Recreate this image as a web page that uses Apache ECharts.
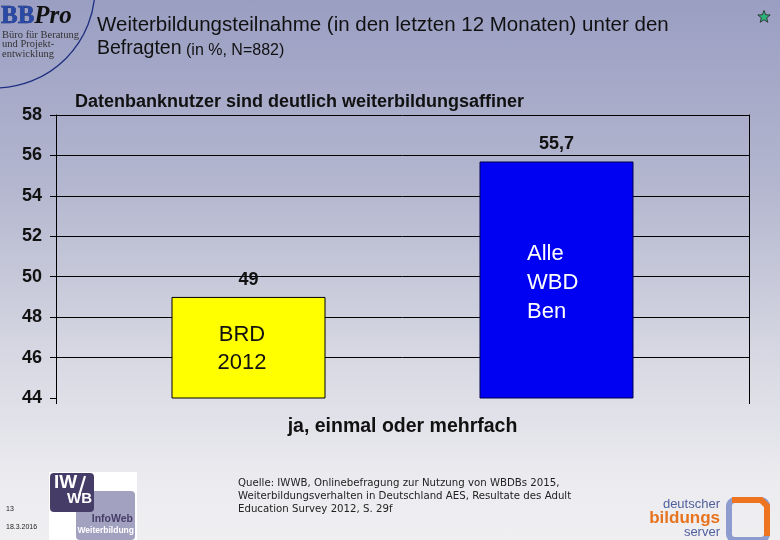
<!DOCTYPE html>
<html>
<head>
<meta charset="utf-8">
<script src="https://cdn.jsdelivr.net/npm/echarts@6/dist/echarts.min.js"></script>
<style>
  html, body { margin: 0; padding: 0; }
  #chart { width: 780px; height: 540px;
    background: linear-gradient(to bottom, #9a9ec2 0%, #b4b7cf 35%, #d6d7e2 65%, #ececf0 90%, #efeff2 100%); }
</style>
</head>
<body>
<div id="chart"></div>
<script>
// ---- data ----
const categories = ['ja, einmal oder mehrfach'];
const seriesNames = ['BRD 2012', 'Alle WBD Ben'];
const valuesBRD = [49];
const valuesWBD = [55.7];
const yMin = 44, yMax = 58, yStep = 2;

const titleLine1 = 'Weiterbildungsteilnahme (in den letzten 12 Monaten) unter den';
const titleLine2a = 'Befragten';
const titleLine2b = ' (in %, N=882)';
const subTitle = 'Datenbanknutzer sind deutlich weiterbildungsaffiner';
const sourceText = 'Quelle: IWWB, Onlinebefragung zur Nutzung von WBDBs 2015,\nWeiterbildungsverhalten in Deutschland AES, Resultate des Adult\nEducation Survey 2012, S. 29f';

const chart = echarts.init(document.getElementById('chart'), null, { renderer: 'canvas' });
const SANS = 'Liberation Sans, Arial, sans-serif';
const SERIF = 'Liberation Serif, DejaVu Serif, serif';

function starPoints(cx, cy, R, r) {
  const pts = [];
  for (let i = 0; i < 10; i++) {
    const a = -Math.PI / 2 + i * Math.PI / 5;
    const rad = i % 2 === 0 ? R : r;
    pts.push([cx + rad * Math.cos(a), cy + rad * Math.sin(a)]);
  }
  return pts;
}

const valueLabel = {
  show: true, position: 'top', distance: 8,
  color: '#111', fontFamily: SANS, fontWeight: 'bold', fontSize: 18,
  formatter: p => String(p.value).replace('.', ',')
};

const option = {
  animation: false,
  backgroundColor: 'transparent',
  grid: { left: 56, right: 31, top: 115, bottom: 142, containLabel: false },
  xAxis: {
    type: 'category',
    data: categories,
    boundaryGap: true,
    axisLine: { show: false },
    axisTick: { show: true, length: 6, lineStyle: { color: '#000', width: 1 } },
    axisLabel: { margin: 19, color: '#111', fontFamily: SANS, fontWeight: 'bold', fontSize: 19.5 },
    splitLine: { show: false }
  },
  yAxis: [{
    type: 'value', min: yMin, max: yMax, interval: yStep,
    axisLine: { show: true, lineStyle: { color: '#000', width: 1 } },
    axisTick: { show: true, length: 6, lineStyle: { color: '#000', width: 1 } },
    axisLabel: { margin: 14, color: '#111', fontFamily: SANS, fontWeight: 'bold', fontSize: 18 },
    splitLine: { show: true, showMinLine: false, lineStyle: { color: '#000', width: 1 } }
  }, {
    type: 'value', min: yMin, max: yMax, interval: yStep, position: 'right',
    axisLine: { show: true, lineStyle: { color: '#000', width: 1 } },
    axisTick: { show: false }, axisLabel: { show: false }, splitLine: { show: false }
  }],
  series: [{
    name: seriesNames[0], type: 'bar', data: valuesBRD,
    barWidth: 154, barGap: '100%',
    itemStyle: { color: '#ffff00', borderColor: '#000', borderWidth: 1 },
    label: valueLabel
  }, {
    name: seriesNames[1], type: 'bar', data: valuesWBD,
    barWidth: 154, barGap: '100%',
    itemStyle: { color: '#0000f2', borderColor: '#000050', borderWidth: 1 },
    label: valueLabel
  }],
  graphic: [
    // decorative arc of logo
    { type: 'arc', z: 1, shape: { cx: -5, cy: -12, r: 100, startAngle: 0, endAngle: Math.PI / 2 },
      style: { stroke: '#1e2f80', lineWidth: 1.3, fill: null } },
    // BBPro logo
    { type: 'text', x: 1, y: 4, z: 5, style: { text: '{b|BB}{p|Pro}', rich: {
        b: { fontFamily: SERIF, fontWeight: 'bold', fontSize: 25, fill: '#2a4aa8', stroke: '#0a1a60', lineWidth: 0.6 },
        p: { fontFamily: SERIF, fontWeight: 'bold', fontStyle: 'italic', fontSize: 25, fill: '#111' } } } },
    { type: 'text', x: 2, y: 30, z: 5, style: { text: 'Büro für Beratung\nund Projekt-\nentwicklung',
        font: '10.5px ' + SERIF, lineHeight: 9.5, fill: '#333' } },
    // titles
    { type: 'text', x: 97, y: 15, z: 5, style: { text: titleLine1, font: '20.5px ' + SANS, fill: '#111' } },
    { type: 'text', x: 97, y: 39, z: 5, style: { text: '{a|' + titleLine2a + '}{b|' + titleLine2b + '}', rich: {
        a: { fontFamily: SANS, fontSize: 19.5, fill: '#111', verticalAlign: 'bottom' },
        b: { fontFamily: SANS, fontSize: 16, fill: '#111', verticalAlign: 'bottom' } } } },
    { type: 'text', x: 75, y: 93, z: 5, style: { text: subTitle, font: 'bold 18px ' + SANS, fill: '#111' } },
    // in-bar text boxes
    { type: 'text', x: 242, y: 321, z: 10, style: { text: 'BRD\n2012', font: '22px ' + SANS,
        lineHeight: 28, textAlign: 'center', fill: '#111' } },
    { type: 'text', x: 527, y: 239, z: 10, style: { text: 'Alle\nWBD\nBen', font: '22px ' + SANS,
        lineHeight: 29, textAlign: 'left', fill: '#fff' } },
    // star
    { type: 'polygon', z: 5, shape: { points: starPoints(764, 17, 6.5, 2.8) },
      style: { fill: '#2db37a', stroke: '#222', lineWidth: 0.8 } },
    // footer left
    { type: 'text', x: 6, y: 506, z: 5, style: { text: '13', font: '7px ' + SANS, fill: '#222' } },
    { type: 'text', x: 6, y: 524, z: 5, style: { text: '18.3.2016', font: '7px ' + SANS, fill: '#222' } },
    // IWWB logo
    { type: 'rect', z: 4, shape: { x: 49, y: 472, width: 88, height: 68 }, style: { fill: '#ffffff' } },
    { type: 'rect', z: 5, shape: { x: 76, y: 491, width: 59, height: 49, r: 4 }, style: { fill: '#a3a1c0' } },
    { type: 'rect', z: 6, shape: { x: 50, y: 473, width: 44, height: 39, r: 4 }, style: { fill: '#463c68' } },
    { type: 'text', x: 54, y: 473, z: 7, style: { text: 'IW', font: 'bold 19px ' + SANS, fill: '#fff' } },
    { type: 'polyline', z: 7, shape: { points: [[85, 476], [79, 496]] }, style: { stroke: '#fff', lineWidth: 2.2 } },
    { type: 'text', x: 67, y: 491, z: 7, style: { text: 'WB', font: 'bold 15px ' + SANS, fill: '#fff' } },
    { type: 'text', x: 133, y: 514, z: 7, style: { text: 'InfoWeb', font: 'bold 10.5px ' + SANS, fill: '#463c68', textAlign: 'right' } },
    { type: 'text', x: 134, y: 526, z: 7, style: { text: 'Weiterbildung', font: 'bold 8.5px ' + SANS, fill: '#fff', textAlign: 'right' } },
    // source
    { type: 'text', x: 238, y: 477, z: 5, style: { text: sourceText, font: '10.2px DejaVu Sans, Verdana, sans-serif',
        lineHeight: 13, fill: '#222' } },
    // deutscher bildungsserver logo
    { type: 'text', x: 720, y: 498, z: 5, style: { text: 'deutscher', font: '13px ' + SANS, fill: '#4f5f9c', textAlign: 'right' } },
    { type: 'text', x: 720, y: 510, z: 5, style: { text: 'bildungs', font: 'bold 17px ' + SANS, fill: '#e8731e', textAlign: 'right' } },
    { type: 'text', x: 720, y: 526, z: 5, style: { text: 'server', font: '13px ' + SANS, fill: '#4f5f9c', textAlign: 'right' } },
    { type: 'rect', z: 5, shape: { x: 729, y: 500, width: 38, height: 40, r: 6 }, style: { fill: null, stroke: '#8d9bcf', lineWidth: 6 } },
    { type: 'polyline', z: 6, shape: { points: [[732, 500], [761, 500], [767, 506], [767, 536]] },
      style: { stroke: '#ee7420', lineWidth: 6, fill: null } }
  ]
};
chart.setOption(option);
</script>
</body>
</html>
